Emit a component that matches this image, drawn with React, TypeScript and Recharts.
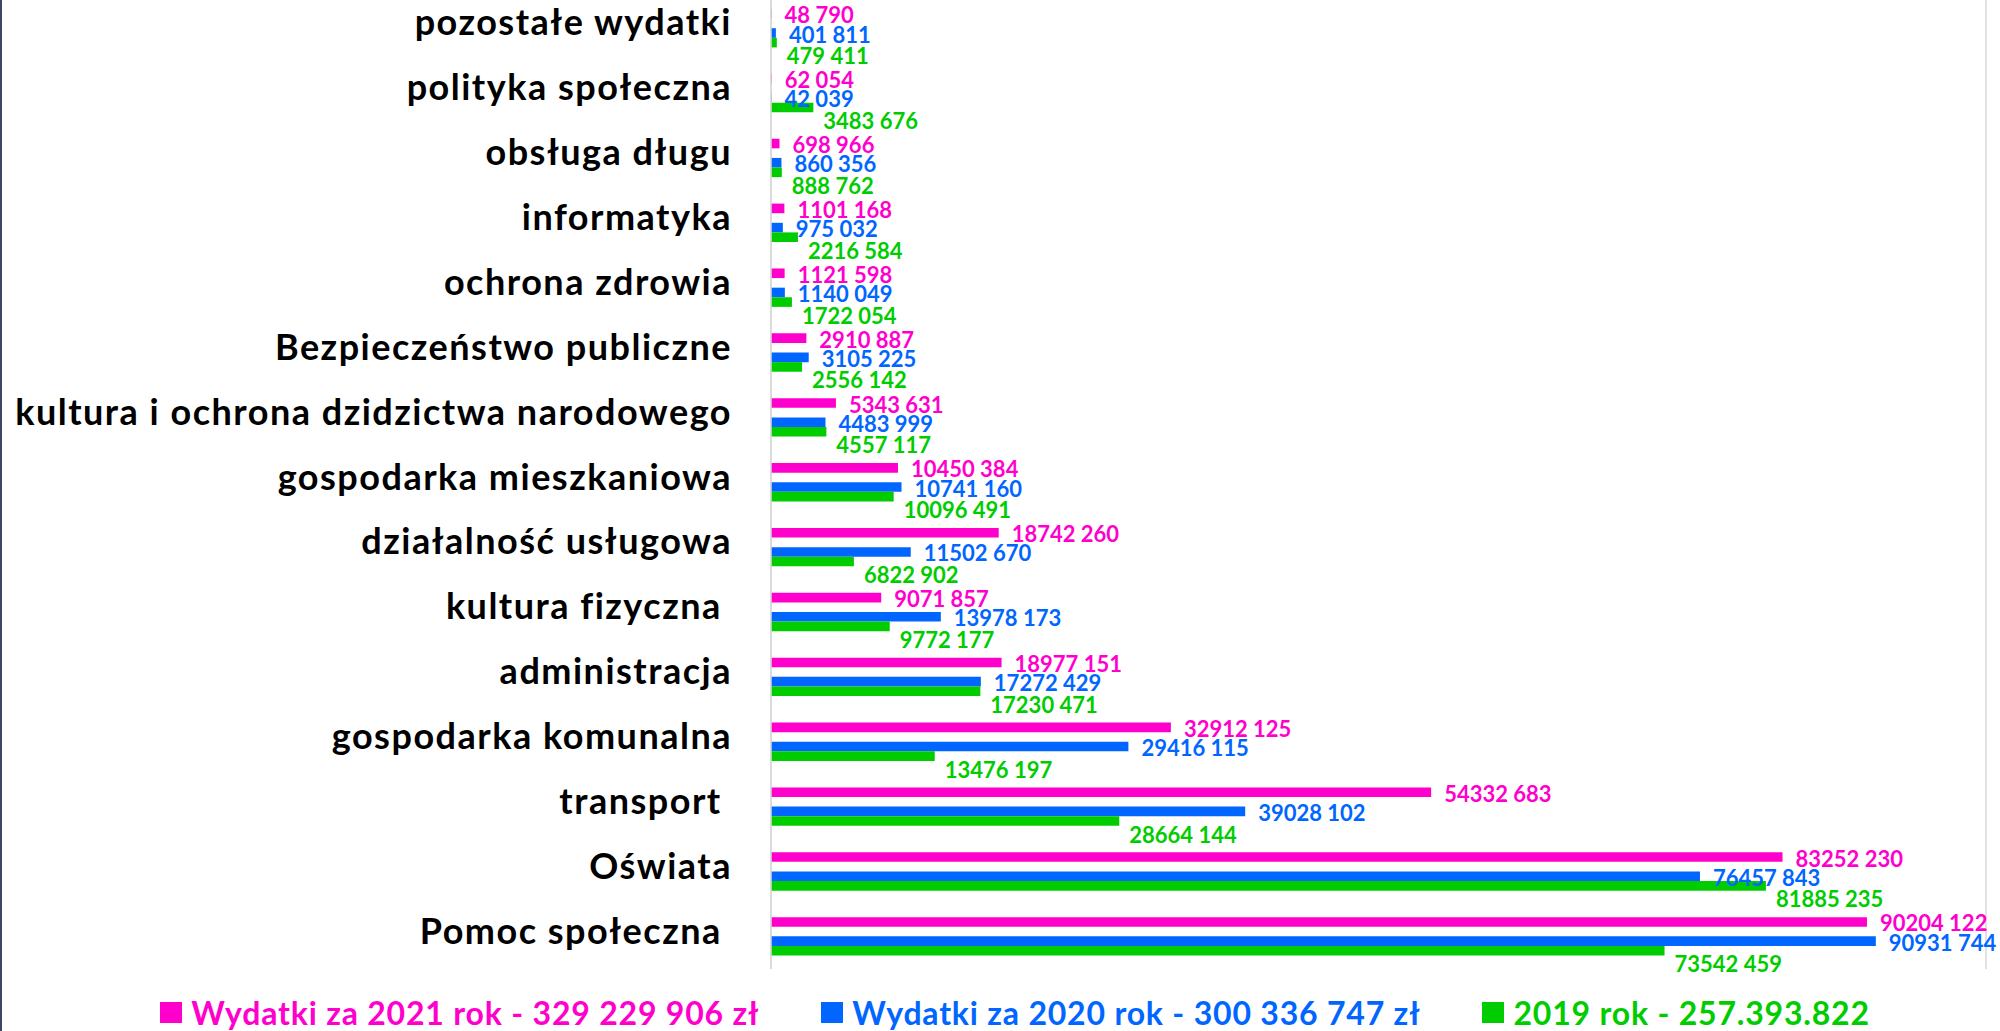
import { BarChart, Bar, XAxis, YAxis, CartesianGrid, Legend, LabelList } from 'recharts';

const categories = [
  'pozostałe wydatki',
  'polityka społeczna',
  'obsługa długu',
  'informatyka',
  'ochrona zdrowia',
  'Bezpieczeństwo publiczne',
  'kultura i ochrona dzidzictwa narodowego',
  'gospodarka mieszkaniowa',
  'działalność usługowa',
  'kultura fizyczna ',
  'administracja',
  'gospodarka komunalna',
  'transport ',
  'Oświata',
  'Pomoc społeczna ',
];

const wydatki2021 = [48790, 62054, 698966, 1101168, 1121598, 2910887, 5343631, 10450384, 18742260, 9071857, 18977151, 32912125, 54332683, 83252230, 90204122];
const wydatki2020 = [401811, 42039, 860356, 975032, 1140049, 3105225, 4483999, 10741160, 11502670, 13978173, 17272429, 29416115, 39028102, 76457843, 90931744];
const wydatki2019 = [479411, 3483676, 888762, 2216584, 1722054, 2556142, 4557117, 10096491, 6822902, 9772177, 17230471, 13476197, 28664144, 81885235, 73542459];

const xTicks = [0, 10000000, 20000000, 30000000, 40000000, 50000000, 60000000, 70000000, 80000000, 90000000, 100000000];

const legendItems = [
  { label: 'Wydatki za 2021 rok - 329 229 906 zł', color: '#FF00CC' },
  { label: 'Wydatki za 2020 rok - 300 336 747 zł', color: '#0066FF' },
  { label: '2019 rok - 257.393.822', color: '#00CC00' },
];

const PINK = '#FF00CC';
const BLUE = '#0066FF';
const GREEN = '#00CC00';
const FONT = 'Lato, "Open Sans", sans-serif';

const data = categories.map((name, i) => ({
  name,
  y2021: wydatki2021[i],
  y2020: wydatki2020[i],
  y2019: wydatki2019[i],
}));

// "18742 260" style: space only before the last three digits
const fmt = (v: number) => `${Math.floor(v / 1000)} ${String(v % 1000).padStart(3, '0')}`;

const makeLabel = (color: string, dx: number, dy: number) => (props: any) => {
  const { x, y, width, height, value } = props;
  return (
    <text
      x={Number(x) + Number(width) + dx}
      y={Number(y) + Number(height) / 2 + dy}
      fill={color}
      fontFamily={FONT}
      fontWeight={700}
      fontSize={22}
      dominantBaseline="central"
    >
      {fmt(Number(value))}
    </text>
  );
};

const CategoryTick = (props: any) => {
  const { x, y, payload } = props;
  return (
    <text
      x={x}
      y={y + 7}
      textAnchor="end"
      fill="#000"
      fontFamily={FONT}
      fontWeight={700}
      fontSize={36}
      letterSpacing={1.5}
      style={{ whiteSpace: 'pre' }}
    >
      {payload.value}
    </text>
  );
};

const renderLegend = () => (
  <div style={{ height: 62, paddingTop: 32, boxSizing: 'border-box', display: 'flex', justifyContent: 'center', gap: 62, paddingLeft: 44 }}>
    {legendItems.map((it) => (
      <div key={it.label} style={{ display: 'flex', alignItems: 'center', height: 21 }}>
        <div style={{ width: 22, height: 21, background: it.color, marginRight: 9 }} />
        <span style={{ color: it.color, fontFamily: FONT, fontWeight: 700, fontSize: 32, letterSpacing: 0.8, whiteSpace: 'pre', lineHeight: '21px' }}>
          {it.label}
        </span>
      </div>
    ))}
  </div>
);

export default function App() {
  return (
    <div style={{ position: 'fixed', left: 0, top: 0, width: 2000, height: 1031, overflow: 'hidden', background: '#fff' }}>
      <div style={{ position: 'absolute', left: 0, top: 0, width: 2, height: 1031, background: '#3B4866' }} />
      <div style={{ position: 'absolute', left: 0, top: -4 }}>
        <BarChart
          width={2000}
          height={1036}
          data={data}
          layout="vertical"
          margin={{ top: 0, right: 14, left: 0, bottom: 0 }}
          barGap={0}
          barSize={9.6}
        >
          <CartesianGrid horizontal={false} stroke="#D9D9D9" strokeWidth={1.5} />
          <XAxis
            type="number"
            domain={[0, 100000000]}
            ticks={xTicks}
            tick={false}
            tickLine={false}
            axisLine={false}
            height={1}
          />
          <YAxis
            type="category"
            dataKey="name"
            width={771}
            tickSize={0}
            tickMargin={39}
            axisLine={{ stroke: '#D9D9D9', strokeWidth: 1.5 }}
            tickLine={false}
            tick={<CategoryTick />}
            interval={0}
          />
          <Legend verticalAlign="bottom" content={renderLegend} />
          <Bar dataKey="y2021" fill={PINK} isAnimationActive={false}>
            <LabelList dataKey="y2021" content={makeLabel(PINK, 13, 1)} />
          </Bar>
          <Bar dataKey="gap" fill="transparent" isAnimationActive={false} legendType="none" />
          <Bar dataKey="y2020" fill={BLUE} isAnimationActive={false}>
            <LabelList dataKey="y2020" content={makeLabel(BLUE, 13, 1)} />
          </Bar>
          <Bar dataKey="y2019" fill={GREEN} isAnimationActive={false}>
            <LabelList dataKey="y2019" content={makeLabel(GREEN, 10, 13)} />
          </Bar>
        </BarChart>
      </div>
    </div>
  );
}
